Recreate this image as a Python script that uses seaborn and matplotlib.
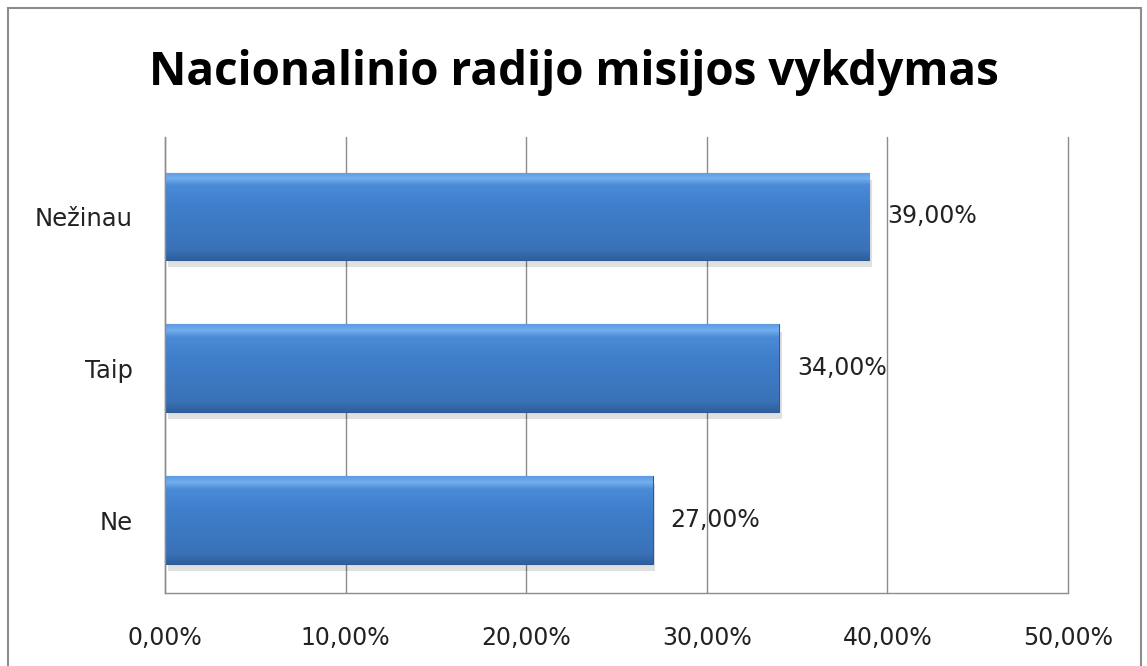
import matplotlib
matplotlib.use("Agg")
import matplotlib.pyplot as plt
import seaborn as sns
import numpy as np
import pandas as pd
from matplotlib.colors import LinearSegmentedColormap
from matplotlib.patches import Rectangle

categories = ["Nežinau", "Taip", "Ne"]
values = [39.0, 34.0, 27.0]
xticks = [0, 10, 20, 30, 40, 50]
title = "Nacionalinio radijo misijos vykdymas"

sns.set_theme(style="white")
plt.rcParams['font.family'] = ['DejaVu Sans']

df = pd.DataFrame({"cat": categories, "val": values})

fig = plt.figure(figsize=(11.47, 6.66), dpi=100)
ax = fig.add_axes([0.1439, 0.1096, 0.931 - 0.1439, 0.794 - 0.1096])

sns.barplot(data=df, x="val", y="cat", orient="h", color="#3c7bc8",
            width=0.575, ax=ax, saturation=1)

ax.set_xlim(0, 50)
ax.set_ylim(2.48, -0.52)
ax.set_xticks(xticks)
ax.set_xticklabels([f"{t:.2f}%".replace(".", ",") for t in xticks], fontsize=17, color="#222222")
for lbl in ax.get_yticklabels():
    lbl.set_fontsize(17.5)
ax.tick_params(axis="y", colors="#222222", length=0, pad=23)
ax.tick_params(axis="x", length=0, pad=24)
ax.set_xlabel("")
ax.set_ylabel("")
ax.grid(axis="x", color="#8c8c8c", linewidth=1.0)
for gl in ax.get_xgridlines():
    gl.set_clip_on(False)
ax.set_axisbelow(True)
for s in ["top", "right"]:
    ax.spines[s].set_visible(False)
for s in ["left", "bottom"]:
    ax.spines[s].set_color("#8c8c8c")
    ax.spines[s].set_linewidth(1.0)

# gradient styling on bars
cmap = LinearSegmentedColormap.from_list("bev", [
    (0.0, "#2f5f9e"), (0.12, "#3a72b8"), (0.6, "#3f7ecb"), (0.85, "#4a8ad6"), (0.93, "#74aef0"), (1.0, "#5d9ae0")])
grad = np.linspace(0, 1, 256).reshape(-1, 1)
for p in list(ax.patches):
    x0, y0 = p.get_x(), p.get_y()
    w, h = p.get_width(), p.get_height()
    sh = Rectangle((x0 + 0.15, y0 + 0.05), w, h, facecolor="#000000", alpha=0.12,
                   edgecolor="none", zorder=p.get_zorder() - 0.1)
    ax.add_patch(sh)
    im = ax.imshow(grad, extent=(x0, x0 + w, y0 + h, y0), aspect="auto", cmap=cmap,
                   origin="lower", zorder=p.get_zorder() + 0.1)
    im.set_clip_path(p)
    p.set_edgecolor("#2c5a94")
    p.set_linewidth(0.8)
ax.set_xlim(0, 50)
ax.set_ylim(2.48, -0.52)

for i, v in enumerate(values):
    ax.text(v + 1.0, i, f"{v:.2f}%".replace(".", ","), va="center", ha="left",
            fontsize=17, color="#222222", zorder=10)

fig.text(0.5, 1 - 85 / 666, title, ha="center", va="baseline", fontsize=33,
         fontweight="bold", color="#000000", family="Open Sans")

border = Rectangle((0.007, -0.05), 0.988, 1.038, transform=fig.transFigure, fill=False,
                   edgecolor="#8c8c8c", linewidth=1.5)
fig.patches.append(border)

fig.savefig("out.png", dpi=100, facecolor="white")
